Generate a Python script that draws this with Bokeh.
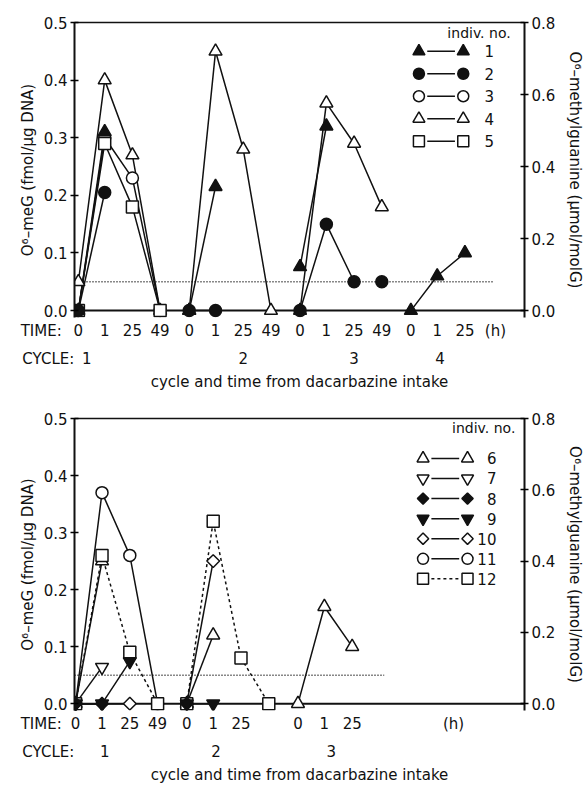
import math
from bokeh.plotting import figure
from bokeh.models import (LinearAxis, Range1d, FixedTicker, Span,
                          NumeralTickFormatter)
from bokeh.layouts import column
from bokeh.embed import file_html
from bokeh.resources import INLINE
from bokeh.core.properties import value

FONT = "DejaVu Sans"
INK = "#111111"
NBSP = "\u00a0"

# ------------------------------------------------------------------ data
TIME_SLOT = {"0": 0.0, "1": 0.95, "25": 1.95, "49": 2.95}   # slot inside a cycle
CYCLE_SPAN = 4.0
DETECTION_LIMIT = 0.05          # fmol/ug DNA
RIGHT_FACTOR = 1.6              # O6-meG fmol/ug DNA -> umol/mol G

top_cycle_times = {1: ["0", "1", "25", "49"], 2: ["0", "1", "25", "49"],
                   3: ["0", "1", "25", "49"], 4: ["0", "1", "25"]}
bottom_cycle_times = {1: ["0", "1", "25", "49"], 2: ["0", "1", "25"],
                      3: ["0", "1", "25"]}

# ---- top panel: individuals 1-5
ind1_cycle = [1, 1, 2, 2, 3, 3, 4, 4, 4]
ind1_time = ["0", "1", "0", "1", "0", "1", "0", "1", "25"]
ind1_meg = [0.0, 0.31, 0.0, 0.215, 0.076, 0.32, 0.0, 0.06, 0.10]
ind1_run = [1, 1, 2, 2, 3, 3, 4, 4, 4]

ind2_cycle = [1, 1, 2, 2, 3, 3, 3, 3]
ind2_time = ["0", "1", "0", "1", "0", "1", "25", "49"]
ind2_meg = [0.0, 0.205, 0.0, 0.0, 0.0, 0.15, 0.05, 0.05]
ind2_run = [1, 1, 2, 2, 3, 3, 3, 4]

ind3_cycle = [1, 1, 1, 1]
ind3_time = ["0", "1", "25", "49"]
ind3_meg = [0.0, 0.30, 0.23, 0.0]
ind3_run = [1, 1, 1, 1]

ind4_cycle = [1, 1, 1, 1, 2, 2, 2, 2, 3, 3, 3, 3]
ind4_time = ["0", "1", "25", "49", "0", "1", "25", "49", "0", "1", "25", "49"]
ind4_meg = [0.05, 0.40, 0.27, 0.0, 0.0, 0.45, 0.28, 0.0, 0.0, 0.36, 0.29, 0.18]
ind4_run = [1, 1, 1, 1, 2, 2, 2, 2, 3, 3, 3, 3]

ind5_cycle = [1, 1, 1, 1]
ind5_time = ["0", "1", "25", "49"]
ind5_meg = [0.0, 0.29, 0.18, 0.0]
ind5_run = [1, 1, 1, 1]

# ---- bottom panel: individuals 6-12
ind6_cycle = [1, 1, 2, 2, 3, 3, 3]
ind6_time = ["0", "1", "0", "1", "0", "1", "25"]
ind6_meg = [0.0, 0.25, 0.0, 0.12, 0.0, 0.17, 0.10]
ind6_run = [1, 1, 2, 2, 3, 3, 3]

ind7_cycle = [1, 1]
ind7_time = ["0", "1"]
ind7_meg = [0.0, 0.064]
ind7_run = [1, 1]

ind8_cycle = [1, 1, 2]
ind8_time = ["0", "1", "0"]
ind8_meg = [0.0, 0.0, 0.0]
ind8_run = [1, 1, 2]

ind9_cycle = [1, 1, 1, 2, 2]
ind9_time = ["0", "1", "25", "0", "1"]
ind9_meg = [0.0, 0.0, 0.074, 0.0, 0.0]
ind9_run = [1, 1, 1, 2, 2]

ind10_cycle = [1, 1, 2, 2]
ind10_time = ["0", "25", "0", "1"]
ind10_meg = [0.0, 0.0, 0.0, 0.25]
ind10_run = [1, 1, 2, 2]

ind11_cycle = [1, 1, 1, 1]
ind11_time = ["0", "1", "25", "49"]
ind11_meg = [0.0, 0.37, 0.26, 0.0]
ind11_run = [1, 1, 1, 1]

ind12_cycle = [1, 1, 1, 1, 2, 2, 2, 2]
ind12_time = ["0", "1", "25", "49", "0", "1", "25", "49"]
ind12_meg = [0.0, 0.26, 0.09, 0.0, 0.0, 0.32, 0.08, 0.0]
ind12_run = [1, 1, 1, 1, 2, 2, 2, 2]

top_series = [
    ("1", "triangle", INK, "solid", ind1_cycle, ind1_time, ind1_meg, ind1_run),
    ("2", "circle", INK, "solid", ind2_cycle, ind2_time, ind2_meg, ind2_run),
    ("3", "circle", "white", "solid", ind3_cycle, ind3_time, ind3_meg, ind3_run),
    ("4", "triangle", "white", "solid", ind4_cycle, ind4_time, ind4_meg, ind4_run),
    ("5", "square", "white", "solid", ind5_cycle, ind5_time, ind5_meg, ind5_run),
]
bottom_series = [
    ("6", "triangle", "white", "solid", ind6_cycle, ind6_time, ind6_meg, ind6_run),
    ("7", "inverted_triangle", "white", "solid", ind7_cycle, ind7_time, ind7_meg, ind7_run),
    ("8", "diamond", INK, "solid", ind8_cycle, ind8_time, ind8_meg, ind8_run),
    ("9", "inverted_triangle", INK, "solid", ind9_cycle, ind9_time, ind9_meg, ind9_run),
    ("10", "diamond", "white", "solid", ind10_cycle, ind10_time, ind10_meg, ind10_run),
    ("11", "circle", "white", "solid", ind11_cycle, ind11_time, ind11_meg, ind11_run),
    ("12", "square", "white", "3 3", ind12_cycle, ind12_time, ind12_meg, ind12_run),
]

# marker shape -> (bokeh marker, size, rotation)
MARKER_STYLE = {"triangle": ("triangle", 13, 0.0),
                "inverted_triangle": ("inverted_triangle", 13, 0.0),
                "circle": ("circle", 12, 0.0),
                "square": ("square", 12, 0.0),
                "diamond": ("square", 9, math.pi / 4)}


def xpos(cycle, t):
    return round((cycle - 1) * CYCLE_SPAN + TIME_SLOT[t], 2)


def make_panel(series, cycle_times, cycle_label_x, hours_x, det_end,
               x_start, x_end, height, b_top, b_bottom, legend):
    y0 = -0.012
    p = figure(width=587, height=height,
               x_range=Range1d(x_start, x_end), y_range=Range1d(y0, 0.5),
               output_backend="svg", toolbar_location=None,
               min_border_left=74, min_border_right=58,
               min_border_top=b_top, min_border_bottom=b_bottom,
               background_fill_color="white", border_fill_color="white")
    p.outline_line_color = None
    p.xgrid.visible = False
    p.ygrid.visible = False

    # row titles sit at the left frame edge; non-breaking spaces push them
    # into the margin under the y axis
    edge = round(x_start + 0.002, 3)

    # ---- x axis: time labels
    pairs = [(edge, "TIME:" + NBSP * 14)]
    for c, ts in cycle_times.items():
        for t in ts:
            pairs.append((xpos(c, t), t))
    pairs.append((hours_x, "(h)"))
    xa = p.xaxis[0]
    xa.ticker = FixedTicker(ticks=[k for k, _ in pairs])
    xa.major_label_overrides = dict(pairs)
    xa.axis_line_color = None
    xa.major_tick_line_color = None
    xa.minor_tick_line_color = None
    xa.major_tick_out = 0
    xa.major_tick_in = 0
    xa.major_label_standoff = 4
    xa.major_label_text_font = FONT
    xa.major_label_text_font_size = "15px"
    xa.major_label_text_color = INK

    # ---- cycle axis
    cpairs = [(edge, "CYCLE:" + NBSP * 11)]
    cpairs += list(zip(cycle_label_x, [str(c) for c in cycle_times]))
    ca = LinearAxis(ticker=FixedTicker(ticks=[k for k, _ in cpairs]),
                    major_label_overrides=dict(cpairs),
                    axis_label="cycle and time from dacarbazine intake",
                    axis_line_color=None, major_tick_line_color=None,
                    minor_tick_line_color=None, major_tick_out=0, major_tick_in=0,
                    major_label_standoff=7, axis_label_standoff=2,
                    major_label_text_font=FONT, major_label_text_font_size="15px",
                    major_label_text_color=INK,
                    axis_label_text_font=FONT, axis_label_text_font_size="15px",
                    axis_label_text_font_style="normal", axis_label_text_color=INK)
    p.add_layout(ca, "below")

    # ---- top frame line
    ta = LinearAxis(ticker=FixedTicker(ticks=[]), major_tick_out=0, major_tick_in=0,
                    axis_line_width=1.5, axis_line_color=INK,
                    major_label_text_font_size="0px")
    p.add_layout(ta, "above")

    # ---- left axis
    ya = p.yaxis[0]
    ya.ticker = FixedTicker(ticks=[0.0, 0.1, 0.2, 0.3, 0.4, 0.5])
    ya.formatter = NumeralTickFormatter(format="0.0")
    ya.axis_label = "O\u2076\u2013meG (fmol/\u03bcg DNA)"
    ya.axis_label_text_font = FONT
    ya.axis_label_text_font_size = "15px"
    ya.axis_label_text_font_style = "normal"
    ya.axis_label_text_color = INK
    ya.axis_label_standoff = 4
    ya.major_label_text_font = FONT
    ya.major_label_text_font_size = "15px"
    ya.major_label_text_color = INK
    ya.major_label_standoff = 3
    ya.major_tick_in = 4
    ya.major_tick_out = 4
    ya.major_tick_line_width = 1.5
    ya.axis_line_width = 2
    ya.axis_line_color = INK

    # ---- right axis
    p.extra_y_ranges = {"right": Range1d(y0 * RIGHT_FACTOR, 0.5 * RIGHT_FACTOR)}
    ra = LinearAxis(y_range_name="right",
                    ticker=FixedTicker(ticks=[0.0, 0.2, 0.4, 0.6, 0.8]),
                    formatter=NumeralTickFormatter(format="0.0"),
                    axis_label="O\u2076\u2013methylguanine (\u03bcmol/molG)",
                    axis_label_text_font=FONT, axis_label_text_font_size="15px",
                    axis_label_text_font_style="normal", axis_label_text_color=INK,
                    axis_label_standoff=8,
                    major_label_text_font=FONT, major_label_text_font_size="15px",
                    major_label_text_color=INK, major_label_standoff=3,
                    major_tick_in=4, major_tick_out=4, major_tick_line_width=1.5,
                    axis_line_width=2, axis_line_color=INK)
    p.add_layout(ra, "right")

    # ---- baseline at 0 and detection limit
    p.add_layout(Span(location=0, dimension="width", line_color=INK,
                      line_width=2, level="underlay"))
    p.line([x_start, det_end], [DETECTION_LIMIT, DETECTION_LIMIT],
           line_color=INK, line_width=1.5, line_dash="1 2")

    # ---- series lines
    for name, marker, fill, dash, cyc, tim, meg, run in series:
        xs, ys = [], []
        for r in sorted(set(run)):
            idx = [i for i in range(len(run)) if run[i] == r]
            xs.append([xpos(cyc[i], tim[i]) for i in idx])
            ys.append([meg[i] for i in idx])
        p.multi_line(xs, ys, line_color=INK, line_width=1.5, line_dash=dash)

    # ---- series markers (open first, filled on top)
    for filled in (False, True):
        for name, marker, fill, dash, cyc, tim, meg, run in series:
            if (fill != "white") != filled:
                continue
            mk, sz, ang = MARKER_STYLE[marker]
            p.scatter([xpos(c, t) for c, t in zip(cyc, tim)], meg, marker=mk,
                      size=sz, angle=ang, fill_color=fill, line_color=INK,
                      line_width=1.5)

    # ---- legend
    lx_l, lx_r, lx_num, lx_title, ly_title, ly0, ldy = legend
    p.text([lx_title], [ly_title], text=["indiv. no."], text_font=value(FONT),
           text_font_size=value("14px"), text_align="right",
           text_baseline="middle", text_color=INK)
    gap = 0.3
    for i, (name, marker, fill, dash, *_rest) in enumerate(series):
        yy = ly0 - i * ldy
        mk, sz, ang = MARKER_STYLE[marker]
        p.line([lx_l + gap, lx_r - gap], [yy, yy], line_color=INK,
               line_width=1.5, line_dash=dash)
        p.scatter([lx_l, lx_r], [yy, yy], marker=mk, size=sz - 1, angle=ang,
                  fill_color=fill, line_color=INK, line_width=1.5)
        p.text([lx_num], [yy], text=[name], text_font=value(FONT),
               text_font_size=value("15px"), text_align="right",
               text_baseline="middle", text_color=INK)
    return p


top = make_panel(top_series, top_cycle_times,
                 cycle_label_x=[0.3, 5.95, 9.95, 13.05], hours_x=15.05,
                 det_end=15.0, x_start=-0.14, x_end=16.1,
                 height=393, b_top=22, b_bottom=76,
                 legend=(12.29, 13.89, 15.0, 15.6, 0.481, 0.45, 0.039))
bottom = make_panel(bottom_series, bottom_cycle_times,
                    cycle_label_x=[1.05, 5.05, 9.2], hours_x=13.6,
                    det_end=11.1, x_start=-0.04, x_end=16.15,
                    height=393, b_top=25, b_bottom=73,
                    legend=(12.5, 14.1, 15.14, 15.82, 0.483, 0.43, 0.0352))

layout = column(top, bottom, spacing=0)
open("out.html", "w").write(file_html(layout, INLINE))
